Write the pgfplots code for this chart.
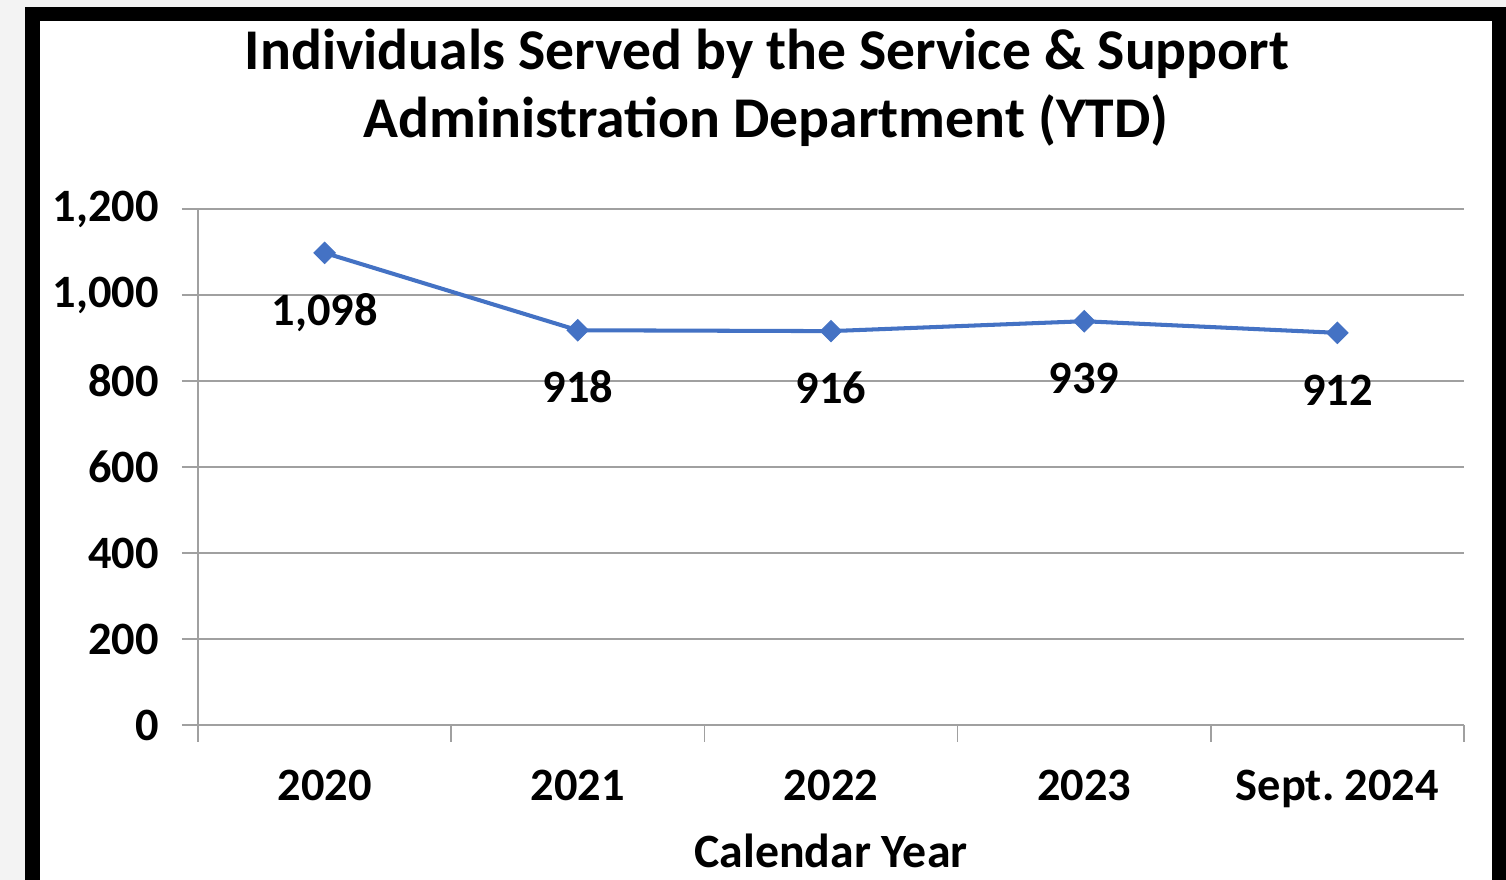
\documentclass[border=0pt]{standalone}
\usepackage{pgfplots}
\pgfplotsset{compat=1.18}
\usepackage{fontspec}
\setmainfont{Carlito}
\definecolor{bgout}{RGB}{243,243,243}
\definecolor{linec}{RGB}{68,114,196}
\definecolor{gridc}{RGB}{160,160,160}
\begin{document}
\begin{tikzpicture}
\useasboundingbox (0,0) rectangle (15.06,8.80);
\fill[bgout] (0,0) rectangle (15.06,8.80);
\fill[black] (0.25,0) rectangle (15.06,8.73);
\fill[white] (0.40,0) rectangle (14.92,8.59);
\node[anchor=base,font=\bfseries\fontsize{16.4}{19}\selectfont] at (7.67,8.10) {Individuals Served by the Service \& Support};
\node[anchor=base,font=\bfseries\fontsize{16.4}{19}\selectfont] at (7.66,7.42) {Administration Department (YTD)};
\begin{axis}[
  at={(1.98cm,1.55cm)}, anchor=south west,
  scale only axis, width=12.66cm, height=5.16cm,
  xmin=-0.5, xmax=4.5, ymin=0, ymax=1200,
  axis x line=bottom, axis y line=left,
  axis line style={-, draw=gridc, line width=0.5pt},
  xtick={0,1,2,3,4},
  xticklabels={2020,2021,2022,2023,Sept.\ 2024},
  minor xtick={-0.5,0.5,1.5,2.5,3.5,4.5},
  ytick={0,200,400,600,800,1000,1200},
  tick align=outside,
  major x tick style={draw=none},
  minor x tick style={draw=gridc, line width=0.5pt},
  minor tick length=0.17cm,
  major tick length=0.16cm,
  y tick style={draw=gridc, line width=0.5pt},
  ymajorgrids,
  grid style={draw=gridc, line width=0.5pt},
  /pgf/number format/assume math mode=true,
  /pgf/number format/1000 sep={,},
  ticklabel style={font=\bfseries\fontsize{13.2}{15}\selectfont, text=black},
  xticklabel style={yshift=-0.17cm},
  yticklabel style={xshift=-0.11cm},
  xlabel={Calendar Year},
  xlabel style={at={(axis description cs:0.5,-0.2771)}, anchor=base, font=\bfseries\fontsize{13.6}{16}\selectfont},
  nodes near coords,
  every node near coord/.append style={anchor=base, yshift=-0.725cm, font=\bfseries\fontsize{13.2}{15}\selectfont, text=black},
  clip=false,
]
\addplot[color=linec, line width=1.15pt, mark=square*, mark size=0.75mm, mark options={rotate=45, fill=linec, draw=linec, line width=0.3pt}]
  coordinates {(0,1098) (1,918) (2,916) (3,939) (4,912)};
\end{axis}
\end{tikzpicture}
\end{document}
